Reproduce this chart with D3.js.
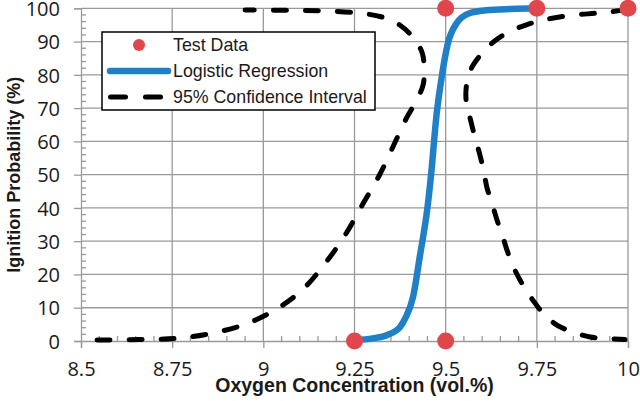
<!DOCTYPE html>
<html>
<head>
<meta charset="utf-8">
<script src="https://cdnjs.cloudflare.com/ajax/libs/d3/7.8.5/d3.min.js"></script>
<style>
  body { margin: 0; background: #fff; }
  svg { display: block; }
  .tick text { font-family: "Open Sans", sans-serif; font-size: 20px; fill: #1a1a1a; }
</style>
</head>
<body>
<script>
"use strict";

// test data points (oxygen %, ignition probability %)
var testX = [9.25, 9.5, 9.5, 9.75, 10];
var testY = [0, 0, 100, 100, 100];

// logistic regression fit
var fitX = [9.25, 9.30, 9.34, 9.375, 9.39, 9.41, 9.43, 9.45, 9.46, 9.475, 9.49, 9.505, 9.53, 9.565, 9.61, 9.68, 9.75];
var fitY = [0.3, 0.8, 1.8, 4.2, 7, 13, 26, 40, 50, 68, 80, 89, 95.5, 98.5, 99.4, 99.8, 100];

// 95% confidence interval, left band (from bottom left round to top)
var ciLeftX = [8.544, 8.662, 8.758, 8.848, 8.944, 9.032, 9.109, 9.172, 9.224, 9.271, 9.320, 9.364, 9.394, 9.416, 9.438, 9.441, 9.435, 9.410, 9.375, 9.328, 9.260, 9.164, 9.068, 8.95];
var ciLeftY = [0.3, 0.45, 0.75, 2.1, 4.8, 9.3, 15.6, 23.7, 31.8, 40.8, 50.2, 60.4, 67.3, 71.5, 76.9, 82.0, 86.8, 91.3, 94.9, 97.3, 98.6, 99.25, 99.4, 99.5];

// 95% confidence interval, right band (from top right round to bottom)
var ciRightX = [9.995, 9.951, 9.910, 9.860, 9.808, 9.759, 9.718, 9.671, 9.630, 9.600, 9.572, 9.558, 9.556, 9.567, 9.580, 9.594, 9.605, 9.613, 9.627, 9.641, 9.657, 9.671, 9.690, 9.712, 9.739, 9.767, 9.805, 9.849, 9.896, 9.942, 9.992];
var ciRightY = [99.6, 98.95, 98.5, 98.05, 97.3, 96.25, 94.9, 92.8, 89.8, 86.5, 82.3, 77.5, 72.4, 67.0, 61.3, 55.9, 50.8, 46.2, 41.4, 36.3, 31.2, 26.4, 21.3, 16.8, 12.3, 8.4, 4.8, 2.7, 1.2, 0.75, 0.45];

var xTicks = [8.5, 8.75, 9, 9.25, 9.5, 9.75, 10];
var yTicks = [0, 10, 20, 30, 40, 50, 60, 70, 80, 90, 100];

var legendLabels = ["Test Data", "Logistic Regression", "95% Confidence Interval"];

var width = 640, height = 401;
var margin = {top: 8.3, right: 12, bottom: 60, left: 81};
var red = "#e0474c", blue = "#1f80c8", grey = "#9a9a9a";

var svg = d3.select("body").append("svg")
	.attr("width", width)
	.attr("height", height);

var x = d3.scaleLinear().domain([8.5, 10]).range([margin.left, width - margin.right]);
var y = d3.scaleLinear().domain([0, 100]).range([height - margin.bottom, margin.top]);

// grid
svg.append("g").selectAll("line")
	.data(yTicks.slice(1))
	.enter().append("line")
	.attr("x1", x(8.5)).attr("x2", x(10))
	.attr("y1", function (d) { return y(d); })
	.attr("y2", function (d) { return y(d); })
	.attr("stroke", grey).attr("stroke-width", 1.3);

svg.append("g").selectAll("line")
	.data(xTicks.slice(1))
	.enter().append("line")
	.attr("x1", function (d) { return x(d); })
	.attr("x2", function (d) { return x(d); })
	.attr("y1", y(0)).attr("y2", y(100))
	.attr("stroke", grey).attr("stroke-width", 1.3);

// minor ticks (inside)
var minorX = d3.range(8.55, 10, 0.05).filter(function (v) { return Math.abs(v * 4 - Math.round(v * 4)) > 0.01; });
svg.append("g").selectAll("line")
	.data(minorX)
	.enter().append("line")
	.attr("x1", function (d) { return x(d); })
	.attr("x2", function (d) { return x(d); })
	.attr("y1", y(0)).attr("y2", y(0) - 5)
	.attr("stroke", grey).attr("stroke-width", 1.3);

var minorY = d3.range(2, 100, 2).filter(function (v) { return v % 10 !== 0; });
svg.append("g").selectAll("line")
	.data(minorY)
	.enter().append("line")
	.attr("x1", x(8.5)).attr("x2", x(8.5) + 5)
	.attr("y1", function (d) { return y(d); })
	.attr("y2", function (d) { return y(d); })
	.attr("stroke", grey).attr("stroke-width", 1.3);

// axes
var xAxis = svg.append("g")
	.attr("transform", "translate(0," + y(0) + ")")
	.call(d3.axisBottom(x).tickValues(xTicks).tickFormat(d3.format("")).tickSize(7).tickPadding(14));

var yAxis = svg.append("g")
	.attr("transform", "translate(" + x(8.5) + ",0)")
	.call(d3.axisLeft(y).tickValues(yTicks).tickSize(7).tickPadding(14));

[xAxis, yAxis].forEach(function (a) {
	a.select(".domain").attr("stroke", grey).attr("stroke-width", 1.3);
	a.selectAll(".tick line").attr("stroke", grey).attr("stroke-width", 1.3);
});
yAxis.selectAll(".tick text").attr("dy", "0.36em");

// axis titles
svg.append("text")
	.attr("x", (x(8.5) + x(10)) / 2)
	.attr("y", 392)
	.attr("text-anchor", "middle")
	.style("font-family", "'Liberation Sans', Arial, sans-serif")
	.style("font-weight", "bold")
	.style("font-size", "19.5px")
	.attr("fill", "#1a1a1a")
	.text("Oxygen Concentration (vol.%)");

svg.append("text")
	.attr("transform", "translate(20," + ((y(0) + y(100)) / 2) + ") rotate(-90)")
	.attr("text-anchor", "middle")
	.style("font-family", "'Liberation Sans', Arial, sans-serif")
	.style("font-weight", "bold")
	.style("font-size", "18px")
	.attr("fill", "#1a1a1a")
	.text("Ignition Probability (%)");

// curves
var ciLine = d3.line()
	.x(function (d) { return x(d[0]); })
	.y(function (d) { return y(d[1]); })
	.curve(d3.curveCatmullRom.alpha(0.5));

var dashStyle = function (sel) {
	sel.attr("fill", "none")
		.attr("stroke", "#000")
		.attr("stroke-width", 5)
		.attr("stroke-linecap", "round")
		.attr("stroke-dasharray", "13,19");
};

svg.append("path")
	.datum(d3.zip(ciLeftX, ciLeftY))
	.attr("d", ciLine)
	.call(dashStyle);

svg.append("path")
	.datum(d3.zip(ciRightX, ciRightY))
	.attr("d", ciLine)
	.call(dashStyle);

var fitLine = d3.line()
	.x(function (d) { return x(d[0]); })
	.y(function (d) { return y(d[1]); })
	.curve(d3.curveMonotoneX);

svg.append("path")
	.datum(d3.zip(fitX, fitY))
	.attr("d", fitLine)
	.attr("fill", "none")
	.attr("stroke", blue)
	.attr("stroke-width", 6.5)
	.attr("stroke-linecap", "round");

svg.append("g").selectAll("circle")
	.data(d3.zip(testX, testY))
	.enter().append("circle")
	.attr("cx", function (d) { return x(d[0]); })
	.attr("cy", function (d) { return y(d[1]); })
	.attr("r", 8.5)
	.attr("fill", red);

// legend
var legend = svg.append("g").attr("transform", "translate(102,32)");
legend.append("rect")
	.attr("width", 273).attr("height", 78)
	.attr("fill", "#fff")
	.attr("stroke", "#000")
	.attr("stroke-width", 1.5);

var rows = legend.selectAll("g.row")
	.data(legendLabels)
	.enter().append("g")
	.attr("class", "row")
	.attr("transform", function (d, i) { return "translate(0," + (13 + i * 26) + ")"; });

rows.append("text")
	.attr("x", 71)
	.attr("dy", "0.35em")
	.style("font-family", "'Liberation Sans', Arial, sans-serif")
	.style("font-size", "17.8px")
	.attr("fill", "#1a1a1a")
	.text(function (d) { return d; });

rows.filter(function (d, i) { return i === 0; })
	.append("circle").attr("cx", 37).attr("r", 6).attr("fill", red);

rows.filter(function (d, i) { return i === 1; })
	.append("line").attr("x1", 8).attr("x2", 66)
	.attr("stroke", blue).attr("stroke-width", 6.5).attr("stroke-linecap", "round");

rows.filter(function (d, i) { return i === 2; })
	.append("line").attr("x1", 8.5).attr("x2", 58.5)
	.attr("stroke", "#000").attr("stroke-width", 5).attr("stroke-linecap", "round")
	.attr("stroke-dasharray", "15,20");
</script>
</body>
</html>
